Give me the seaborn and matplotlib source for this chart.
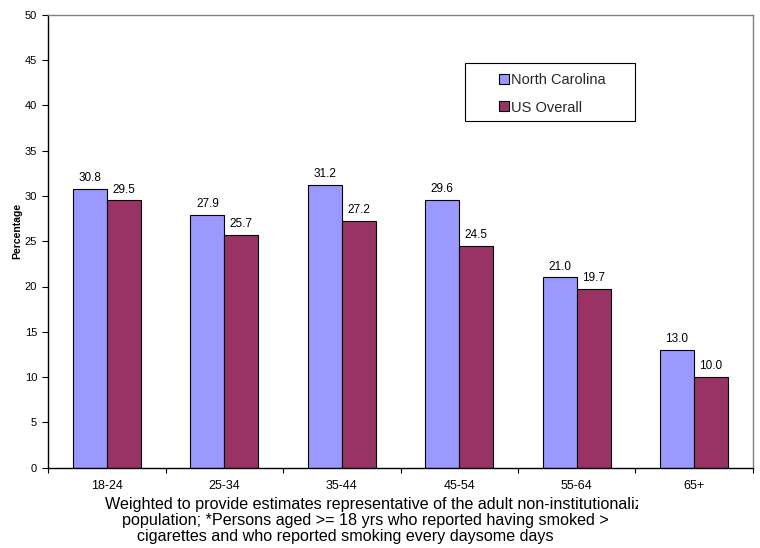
import matplotlib
matplotlib.use("Agg")
import matplotlib.pyplot as plt
from matplotlib.patches import Patch, Rectangle
from matplotlib.transforms import Bbox
import numpy as np
import pandas as pd
import seaborn as sns

# Current smokers by age group
age_groups = ["18-24", "25-34", "35-44", "45-54", "55-64", "65+"]
north_carolina = [30.8, 27.9, 31.2, 29.6, 21.0, 13.0]
us_overall = [29.5, 25.7, 27.2, 24.5, 19.7, 10.0]
series_names = ["North Carolina", "US Overall"]
series_colors = ["#9999FF", "#993366"]
y_ticks = list(range(0, 51, 5))

footnote_lines = [
    "Weighted to provide estimates representative of the adult non-institutionalized",
    "population; *Persons aged >= 18 yrs who reported having smoked >",
    "cigarettes and who reported smoking every daysome days",
]

df = pd.DataFrame({
    "Age": age_groups * 2,
    "Percentage": north_carolina + us_overall,
    "Series": [series_names[0]] * len(age_groups) + [series_names[1]] * len(age_groups),
})

sns.set_theme(style="white")
plt.rcParams["font.family"] = ["Liberation Sans", "DejaVu Sans"]

W, H = 760, 548
fig = plt.figure(figsize=(W / 100, H / 100), dpi=100)
fig.patch.set_facecolor("white")

ax_l, ax_r, ax_t, ax_b = 48.3, 752.7, 14.7, 467.7
ax = fig.add_axes([ax_l / W, 1 - ax_b / H, (ax_r - ax_l) / W, (ax_b - ax_t) / H])

sns.barplot(
    data=df, x="Age", y="Percentage", hue="Series",
    palette=series_colors, saturation=1, width=0.58,
    edgecolor="black", linewidth=0.8, legend=False, ax=ax,
)

for cont in ax.containers:
    ax.bar_label(cont, fmt="%.1f", padding=3.5, fontsize=8.5, color="black")

ax.set_xlim(-0.5, len(age_groups) - 0.5)
ax.set_ylim(0, 50)
ax.set_yticks(y_ticks)
ax.set_xlabel("")
ax.set_ylabel("Percentage", fontsize=7.5, fontweight="bold", color="black")
ax.yaxis.set_label_coords(-0.0437, 0.5225)
ax.yaxis.label.set_verticalalignment("center")

ax.tick_params(axis="y", which="major", left=True, length=4, width=0.8,
               color="black", pad=4, labelsize=8, labelcolor="black", direction="out")
ax.tick_params(axis="x", which="major", bottom=True, length=0, pad=8.5,
               labelsize=9, labelcolor="black")
ax.set_xticks(np.arange(-0.5, len(age_groups), 1.0), minor=True)
ax.tick_params(axis="x", which="minor", bottom=True, length=3.5, width=0.8,
               color="black", direction="out")

for s in ["top", "right"]:
    ax.spines[s].set_color("#808080")
    ax.spines[s].set_linewidth(1.0)
for s in ["left", "bottom"]:
    ax.spines[s].set_color("black")
    ax.spines[s].set_linewidth(1.0)
ax.grid(False)

# Legend box
def ax_x(px):
    return (px - ax_l) / (ax_r - ax_l)

def ax_y(py):
    return (ax_b - py) / (ax_b - ax_t)

ax.add_patch(Rectangle((ax_x(465), ax_y(121)), ax_x(635) - ax_x(465), ax_y(63) - ax_y(121),
                       transform=ax.transAxes, facecolor="white", edgecolor="black",
                       linewidth=0.8, zorder=4))
handles = [Patch(facecolor=c, edgecolor="black", linewidth=0.8) for c in series_colors]
leg = ax.legend(handles, series_names, loc="center", bbox_to_anchor=(ax_x(552), ax_y(94)),
                frameon=False, fontsize=10.5, handlelength=0.68, handleheight=0.68,
                handletextpad=0.15, labelspacing=0.9, borderpad=0)
leg.set_zorder(5)

# Footnote beneath the axis
xs = [105, 122, 137]
ys = [505, 521, 537]
texts = []
for line, x, y in zip(footnote_lines, xs, ys):
    t = fig.text(x / W, 1 - y / H, line, ha="left", va="center", fontsize=10.5, color="black")
    texts.append(t)

fig.canvas.draw()
renderer = fig.canvas.get_renderer()
w2 = texts[1].get_window_extent(renderer).width
size = 10.5 * 490.0 / w2
for t in texts:
    t.set_fontsize(size)

texts[0].set_clip_box(Bbox.from_extents(0, 0, 638, H))
texts[0].set_clip_on(True)

fig.savefig("out.png", dpi=100, facecolor="white")
